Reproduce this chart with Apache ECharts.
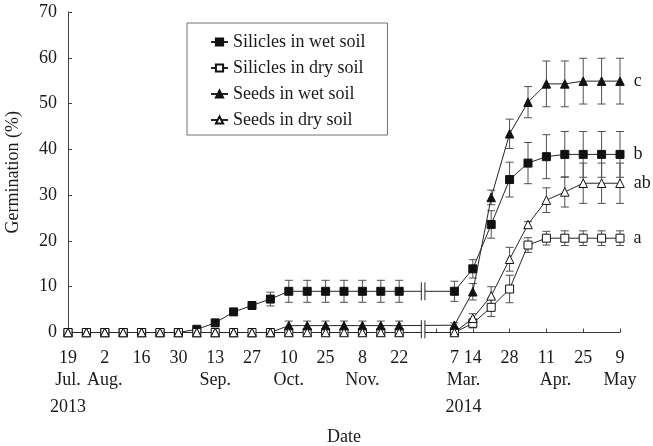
<!DOCTYPE html>
<html>
<head>
<meta charset="utf-8">
<script src="https://cdn.jsdelivr.net/npm/echarts@6/dist/echarts.min.js"></script>
<style>html,body{margin:0;padding:0;background:#fff}#c{width:653px;height:446px}</style>
</head>
<body>
<div id="c"></div>
<script>
// ---- data ----
// position of each sampling date on the (compressed) weekly axis: 19 Jul 2013 = 0 ... 22 Nov = 18 | break | 7 Mar 2014 = 21 ... 9 May = 30
const weekIndex = [0,1,2,3,4,5,6,7,8,9,10,11,12,13,14,15,16,17,18, 21,22,23,24,25,26,27,28,29,30];
const seriesNames = ['Silicles in wet soil','Silicles in dry soil','Seeds in wet soil','Seeds in dry soil'];
const siliclesWet    = [0,0,0,0,0,0,0,0.7,2.1,4.5,5.9,7.3,9,9,9,9,9,9,9, 9,13.9,23.6,33.4,37.0,38.4,38.9,38.9,38.9,38.9];
const siliclesWetErr = [0,0,0,0,0,0,0,0,0,0,0,1.5,2.4,2.4,2.4,2.4,2.4,2.4,2.4, 2.2,2.0,3.0,3.8,4.5,4.8,5.0,5.0,5.0,5.0];
const siliclesDry    = [0,0,0,0,0,0,0,0,0,0,0,0,0,0,0,0,0,0,0, 0,2.0,5.5,9.5,19.1,20.6,20.6,20.6,20.6,20.6];
const siliclesDryErr = [0,0,0,0,0,0,0,0,0,0,0,0,0,0,0,0,0,0,0, 0,1.0,2.0,3.0,1.6,1.5,1.6,1.6,1.6,1.6];
const seedsWet       = [0,0,0,0,0,0,0,0,0,0,0,0,1.5,1.5,1.5,1.5,1.5,1.5,1.5, 1.6,8.9,29.5,43.4,50.3,54.3,54.3,54.9,54.9,54.9];
const seedsWetErr    = [0,0,0,0,0,0,0,0,0,0,0,0,1.0,1.0,1.0,1.0,1.0,1.0,1.0, 0.5,1.8,1.6,3.2,3.4,5.0,5.0,5.0,5.0,5.0];
const seedsDry       = [0,0,0,0,0,0,0,0,0,0,0,0,0,0,0,0,0,0,0, 0,3.1,8.0,16.0,23.6,28.9,30.7,32.6,32.6,32.6];
const seedsDryErr    = [0,0,0,0,0,0,0,0,0,0,0,0,0,0,0,0,0,0,0, 0,1.0,2.0,2.6,0.6,2.7,3.3,4.4,4.4,4.4];
const sigLetters = ['b','a','c','ab'];
// axis break (between 22 Nov and 7 Mar) and the levels of the broken lines
const breakAt = 19.3;
const breakLevels = [9, 0.7];
// tick labels: [position, text]
const dayLabels = [[0,'19'],[2,'2'],[4,'16'],[6,'30'],[8,'13'],[10,'27'],[12,'10'],[14,'25'],[16,'8'],[18,'22'],[21,'7'],[22,'14'],[24,'28'],[26,'11'],[28,'25'],[30,'9']];
const monthLabels = [[0,'Jul.'],[2,'Aug.'],[8,'Sep.'],[12,'Oct.'],[16,'Nov.'],[21.5,'Mar.'],[26.5,'Apr.'],[30,'May']];
const yearLabels = [[0,'2013'],[21.5,'2014']];

// ---- styles ----
const FONT = 'Liberation Serif';
const TXT = '#1a1a1a';
const LINE = '#262626';
const ERR = '#505050';

function find(list, v){ for (const p of list) if (Math.abs(p[0]-v) < 1e-6) return p[1]; return null; }
function xLabel(v){
  const d = find(dayLabels, v), m = find(monthLabels, v), y = find(yearLabels, v);
  if (d === null && m === null && y === null) return '';
  let s = '{d|' + (d === null ? ' ' : d) + '}';
  if (m !== null || y !== null) s += '\n{m|' + (m === null ? ' ' : m) + '}';
  if (y !== null) s += '\n{y|' + y + '}';
  return s;
}

const values = [siliclesWet, siliclesDry, seedsWet, seedsDry];
const errs = [siliclesWetErr, siliclesDryErr, seedsWetErr, seedsDryErr];
const symbols = ['rect','rect','triangle','triangle'];
const fills = ['#111','#fff','#111','#fff'];
const sizes = [8, 8, 8.5, 8.5];

function errItem(params, api){
  const x = api.value(0), lo = api.value(1), hi = api.value(2);
  const a = api.coord([x, hi]), b = api.coord([x, lo]);
  const hw = 4;
  const st = {stroke: ERR, lineWidth: 1};
  return {type:'group', children:[
    {type:'line', shape:{x1:a[0], y1:a[1], x2:b[0], y2:b[1]}, style:st},
    {type:'line', shape:{x1:a[0]-hw, y1:a[1], x2:a[0]+hw, y2:a[1]}, style:st},
    {type:'line', shape:{x1:b[0]-hw, y1:b[1], x2:b[0]+hw, y2:b[1]}, style:st}
  ]};
}
function breakItem(params, api){
  const p = api.coord([api.value(0), api.value(1)]);
  const h = 9, g = 1.8;
  const st = {stroke: LINE, lineWidth: 1};
  return {type:'group', children:[
    {type:'rect', shape:{x:p[0]-g, y:p[1]-h+1, width:2*g, height:2*h-2}, style:{fill:'#fff'}},
    {type:'line', shape:{x1:p[0]-g, y1:p[1]-h, x2:p[0]-g, y2:p[1]+h}, style:st},
    {type:'line', shape:{x1:p[0]+g, y1:p[1]-h, x2:p[0]+g, y2:p[1]+h}, style:st}
  ]};
}

const series = [];
// error bars first (drawn under markers)
errs.forEach((e, i) => {
  const data = [];
  e.forEach((v, k) => { if (v > 0) data.push([weekIndex[k], values[i][k]-v, values[i][k]+v]); });
  series.push({type:'custom', xAxisIndex:0, renderItem: errItem, data, z:2, silent:true, encode:{x:0, y:[1,2]}});
});
values.forEach((vals, i) => {
  const data = vals.map((v, k) => [weekIndex[k], v]);
  const last = data.length - 1;
  data[last] = {value: data[last], label:{show:true, position:'right', distance:9, formatter: sigLetters[i],
    fontFamily: FONT, fontSize: 18, color: TXT}};
  series.push({
    name: seriesNames[i], type:'line', xAxisIndex:0, data,
    symbol: symbols[i], symbolSize: sizes[i], showAllSymbol:true,
    lineStyle:{color: LINE, width:1},
    itemStyle:{color: fills[i], borderColor: '#111', borderWidth: 1},
    z: 3, animation:false
  });
});
series.push({type:'custom', xAxisIndex:0, renderItem: breakItem, z:4, silent:true,
  data: breakLevels.map(l => [breakAt, l])});

const chart = echarts.init(document.getElementById('c'), null, {renderer:'canvas'});
chart.setOption({
  animation:false,
  backgroundColor:'#fff',
  textStyle:{fontFamily: FONT},
  grid:{left:68, right:33, top:12, bottom:113.5, containLabel:false, outerBoundsMode:'none'},
  legend:{
    data: seriesNames, orient:'vertical', left:187, top:23,
    padding:[10, 22, 6, 23], itemGap:8, itemWidth:17, itemHeight:9,
    borderColor:'#707070', borderWidth:1,
    textStyle:{fontFamily: FONT, fontSize:18, color: TXT},
    selectedMode:false
  },
  xAxis:[
    {type:'value', min:0, max:30, interval:2, position:'bottom',
      axisLine:{show:true, lineStyle:{color:'#404040'}},
      axisTick:{show:true, inside:true, length:4, lineStyle:{color:'#404040'}},
      axisLabel:{show:false}, splitLine:{show:false},
      name:'Date', nameLocation:'middle', nameGap:96,
      nameTextStyle:{fontFamily: FONT, fontSize:18, color: TXT, verticalAlign:'top'}},
    {type:'value', min:0, max:30, interval:0.5, position:'bottom',
      axisLine:{show:false}, axisTick:{show:false}, splitLine:{show:false},
      axisLabel:{show:true, margin:16, formatter: xLabel, color: TXT, fontFamily: FONT, fontSize:18,
        rich:{
          d:{fontFamily: FONT, fontSize:18, color: TXT, lineHeight:20},
          m:{fontFamily: FONT, fontSize:18, color: TXT, lineHeight:23},
          y:{fontFamily: FONT, fontSize:18, color: TXT, lineHeight:31}
        }}}
  ],
  yAxis:{type:'value', min:0, max:70, interval:10,
    axisLine:{show:true, lineStyle:{color:'#404040'}},
    axisTick:{show:true, inside:true, length:4, lineStyle:{color:'#404040'}},
    axisLabel:{margin:11, fontFamily: FONT, fontSize:18, color: TXT},
    splitLine:{show:false},
    name:'Germination (%)', nameLocation:'middle', nameGap:46,
    nameTextStyle:{fontFamily: FONT, fontSize:18, color: TXT}},
  series
});
</script>
</body>
</html>
